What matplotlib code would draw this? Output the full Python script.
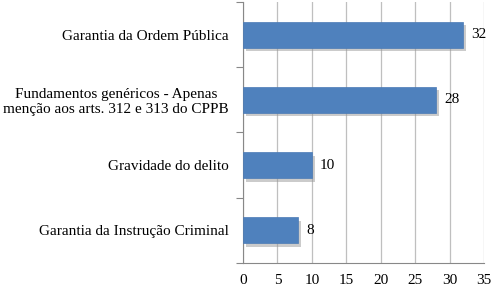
import matplotlib.pyplot as plt
import matplotlib.patheffects as pe

categories = [
    "Garantia da Ordem Pública",
    "Fundamentos genéricos - Apenas\nmenção aos arts. 312 e 313 do CPPB",
    "Gravidade do delito",
    "Garantia da Instrução Criminal",
]
values = [32, 28, 10, 8]
xticks = [0, 5, 10, 15, 20, 25, 30, 35]

plt.rcParams['font.family'] = ['Liberation Serif', 'DejaVu Serif']

fig = plt.figure(figsize=(5, 2.88), dpi=100)
ax = fig.add_axes([0.486, 0.087, 0.482, 0.906])

pos = list(range(len(categories)))[::-1]
bars = ax.barh(pos, values, height=0.4, color='#4F81BD', edgecolor='#4A7AB5', linewidth=0.5,
               zorder=3,
               path_effects=[pe.SimplePatchShadow(offset=(2, -2.5), shadow_rgbFace='#999999', alpha=0.5),
                             pe.Normal()])

for p, v in zip(pos, values):
    ax.text(v + 1.2, p, str(v), va='center', ha='left', fontsize=11, color='black')

ax.set_xlim(0, 35)
ax.set_ylim(-0.5, len(categories) - 0.5)
ax.set_xticks(xticks)
ax.set_xticklabels([str(t) for t in xticks], fontsize=11)
ax.set_yticks(pos)
ax.set_yticklabels(categories, fontsize=11, ha='right', multialignment='center')
ax.set_yticks([-0.5, 0.5, 1.5, 2.5, 3.5], minor=True)

ax.grid(axis='x', color='#BFBFBF', linewidth=0.9, zorder=0)
ax.tick_params(axis='y', which='major', length=0, pad=10)
ax.tick_params(axis='y', which='minor', length=5, color='#888888', width=0.8)
ax.tick_params(axis='x', length=0, pad=8)

for side in ['top', 'right']:
    ax.spines[side].set_visible(False)
ax.spines['left'].set_color('#888888')
ax.spines['bottom'].set_color('#888888')

fig.savefig('out.png', dpi=100)
